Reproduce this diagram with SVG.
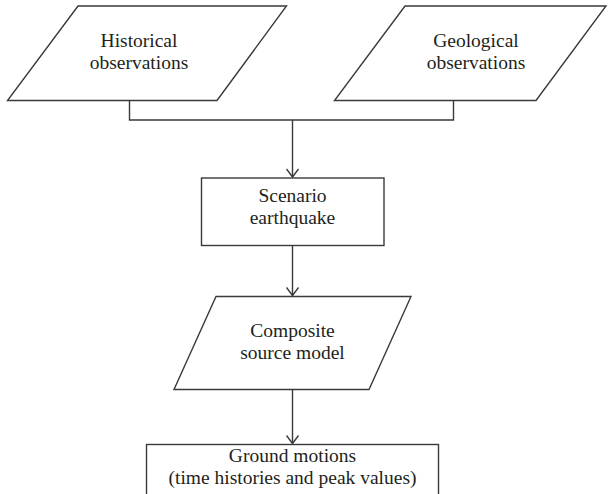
<svg xmlns="http://www.w3.org/2000/svg" width="609" height="494" viewBox="0 0 609 494">
<style>
.s{fill:#fff;stroke:#3a3a3a;stroke-width:1.4}
.c{fill:none;stroke:#3a3a3a;stroke-width:1.4}
.t{font-family:"Liberation Serif","Times New Roman",serif;font-size:19.5px;fill:#231f20;text-anchor:middle}
</style>
<defs>
<marker id="ah" markerWidth="12" markerHeight="14" refX="9" refY="7" orient="auto" markerUnits="userSpaceOnUse" viewBox="0 0 12 14">
<path d="M1,1 L9,7 L1,13" fill="none" stroke="#3a3a3a" stroke-width="1.4"/>
</marker>
</defs>
<rect width="609" height="494" fill="#fff"/>
<g id="connectors">
<path class="c" d="M292.5,120 V177" marker-end="url(#ah)"/>
<path class="c" d="M129.5,100.5 V120 H453.5 V100.5"/>
<path class="c" d="M292.5,245.5 V295.5" marker-end="url(#ah)"/>
<path class="c" d="M292.5,389.5 V443.5" marker-end="url(#ah)"/>
</g>
<g id="historical">
<polygon class="s" points="78,6 286.5,6 217,100.5 7.5,100.5"/>
<text class="t" x="139" y="47">Historical</text>
<text class="t" x="139" y="69">observations</text>
</g>
<g id="geological">
<polygon class="s" points="405,6 606,6 536,100.5 334.5,100.5"/>
<text class="t" x="476" y="47">Geological</text>
<text class="t" x="476" y="69">observations</text>
</g>
<g id="scenario">
<rect class="s" x="201.5" y="178" width="182.5" height="67.5"/>
<text class="t" x="292.5" y="202">Scenario</text>
<text class="t" x="292.5" y="224">earthquake</text>
</g>
<g id="composite">
<polygon class="s" points="216,296.5 411,296.5 369,389.5 174,389.5"/>
<text class="t" x="292.5" y="337">Composite</text>
<text class="t" x="292.5" y="359">source model</text>
</g>
<g id="ground">
<rect class="s" x="146.5" y="444.5" width="292" height="60"/>
<text class="t" x="292.5" y="462">Ground motions</text>
<text class="t" x="292.5" y="484">(time histories and peak values)</text>
</g>
</svg>
